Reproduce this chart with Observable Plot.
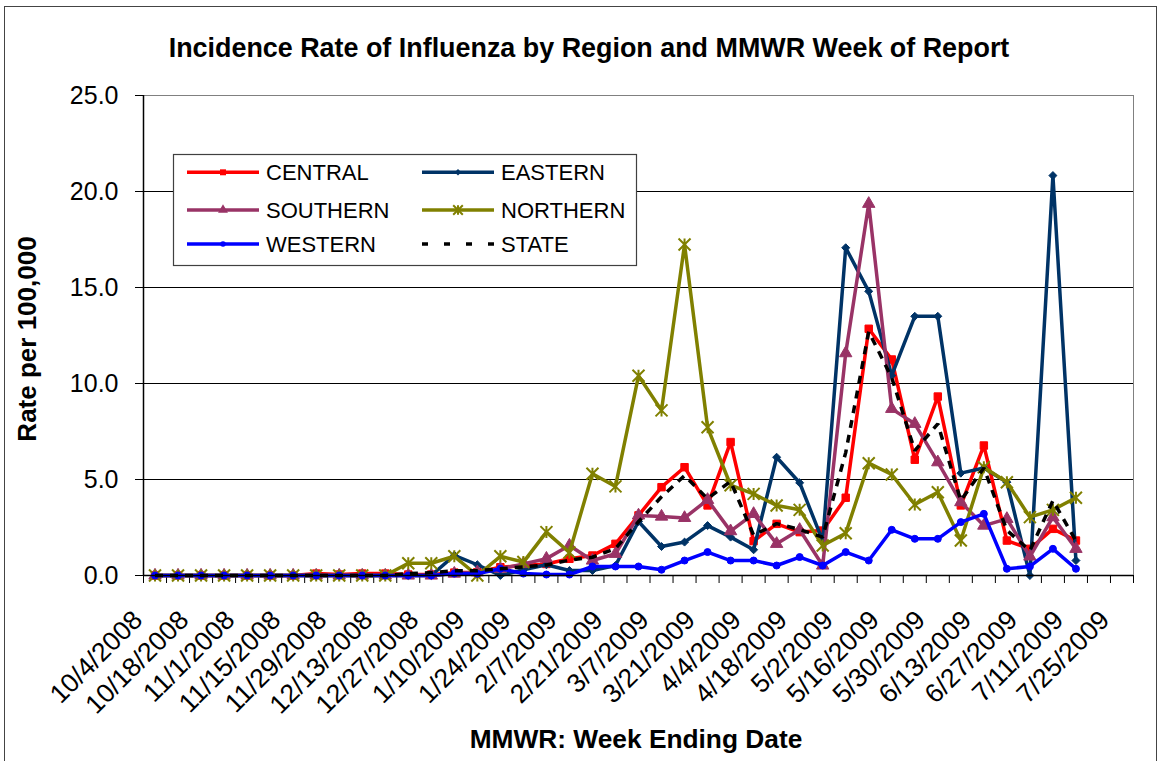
<!DOCTYPE html>
<html>
<head>
<meta charset="utf-8">
<script src="https://cdn.jsdelivr.net/npm/d3@7"></script>
<script src="https://cdn.jsdelivr.net/npm/@observablehq/plot@0.6"></script>
<style>
  html, body { margin: 0; padding: 0; background: #fff; }
  #chart { position: relative; width: 1161px; height: 761px; overflow: hidden; background: #fff; }
  #chart > svg { position: absolute; left: 0; top: 0; }
  #border { position: absolute; left: 4px; top: 6px; width: 1153px; height: 770px; border: 1.5px solid #444; box-sizing: border-box; }
</style>
</head>
<body>
<div id="chart"><div id="border"></div></div>
<script>
// Week-ending dates (category axis)
const dates = ["10/4/2008","10/11/2008","10/18/2008","10/25/2008","11/1/2008","11/8/2008","11/15/2008","11/22/2008",
  "11/29/2008","12/6/2008","12/13/2008","12/20/2008","12/27/2008","1/3/2009","1/10/2009","1/17/2009","1/24/2009",
  "1/31/2009","2/7/2009","2/14/2009","2/21/2009","2/28/2009","3/7/2009","3/14/2009","3/21/2009","3/28/2009",
  "4/4/2009","4/11/2009","4/18/2009","4/25/2009","5/2/2009","5/9/2009","5/16/2009","5/23/2009","5/30/2009",
  "6/6/2009","6/13/2009","6/20/2009","6/27/2009","7/4/2009","7/11/2009","7/18/2009","7/25/2009"];

const central  = [0,0,0,0,0,0,0,0.1,0.05,0.1,0.1,0.05,0.05,0.15,0.17,0.43,0.52,0.6,0.87,1.04,1.65,3.13,4.6,5.64,3.65,6.95,1.79,2.69,2.26,2.34,4.05,12.85,11.25,6.03,9.32,3.65,6.77,1.82,1.39,2.43,1.82];
const eastern  = [0,0,0,0,0,0,0,0,0,0,0,0,0,1.05,0.56,0,0.3,0.56,0.26,0.26,0.52,2.81,1.51,1.74,2.6,2.0,1.34,6.16,4.83,1.8,17.07,14.8,10.42,13.5,13.5,5.33,5.6,4.86,0,20.83,0.78];
const southern = [0,0,0,0,0,0,0,0,0,0,0,0,0,0.1,0.17,0.35,0.6,0.88,1.56,0.78,1.13,3.13,3.07,3.0,3.94,2.31,3.21,1.65,2.38,0.52,11.58,19.36,8.68,7.9,5.9,3.82,2.6,2.95,0.99,3.04,1.39];
const northern = [0,0,0,0,0,0,0,0,0,0,0,0.64,0.64,1.0,0,1.0,0.7,2.26,1.2,5.3,4.64,10.4,8.6,17.24,7.72,4.7,4.25,3.65,3.42,1.56,2.2,5.85,5.26,3.7,4.34,1.82,5.64,4.86,3.04,3.42,4.05];
const western  = [0,0,0,0,0,0,0,0,0,0,0,0,0,0.1,0.09,0.35,0.1,0.05,0.05,0.47,0.47,0.47,0.3,0.78,1.22,0.78,0.78,0.52,0.96,0.52,1.22,0.78,2.38,1.91,1.91,2.78,3.21,0.35,0.47,1.39,0.35];
const state    = [0,0,0,0,0,0,0,0,0,0,0,0.1,0.15,0.25,0.25,0.35,0.45,0.55,0.8,0.95,1.4,2.8,4.1,5.2,4.0,4.9,2.1,2.7,2.4,2.0,6.4,12.7,10.3,6.5,7.9,3.9,5.6,2.35,1.3,3.9,1.8];

const seriesNames = ["CENTRAL","EASTERN","SOUTHERN","NORTHERN","WESTERN","STATE"];
const yTicks = [0,5,10,15,20,25];

// star marker (X with vertical bar), like Excel's star
const starSymbol = {
  draw(ctx, size) {
    const r = Math.sqrt(size / Math.PI);
    ctx.moveTo(-r, -r); ctx.lineTo(r, r);
    ctx.moveTo(-r, r); ctx.lineTo(r, -r);
    ctx.moveTo(0, -r); ctx.lineTo(0, r);
  }
};

const styles = {
  CENTRAL:  {color: "#FF0000", symbol: "square",   r: 4.2},
  EASTERN:  {color: "#003366", symbol: "diamond2", r: 3.6},
  SOUTHERN: {color: "#993366", symbol: "triangle", r: 4.6},
  NORTHERN: {color: "#808000", symbol: starSymbol, r: 6},
  WESTERN:  {color: "#0000FF", symbol: "circle",   r: 3.5},
  STATE:    {color: "#000000", symbol: null,       r: 0, dash: "8,7"}
};
const valuesByName = {CENTRAL: central, EASTERN: eastern, SOUTHERN: southern, NORTHERN: northern, WESTERN: western, STATE: state};

const xDomain = [-0.5, dates.length - 0.5];
const boundaries = d3.range(dates.length + 1).map(i => i - 0.5);
const labelIdx = dates.map((d, i) => i).filter(i => i % 2 === 0);

const marks = [
  Plot.ruleY(yTicks.filter(v => v > 0), {stroke: "#000", strokeWidth: 1}),
  Plot.frame({stroke: "#808080", strokeWidth: 1}),
  Plot.axisY({ticks: yTicks, tickFormat: d => d.toFixed(1), tickSize: 8, tickPadding: 17, label: null, stroke: "#000"}),
  Plot.axisX({ticks: boundaries, tickSize: 8, tickFormat: () => "", label: null, stroke: "#000"}),
  Plot.text(labelIdx, {x: d => d, text: d => dates[d], frameAnchor: "bottom", rotate: -45, textAnchor: "end",
    lineAnchor: "middle", dx: -17, dy: 40, fontSize: 26.5, fill: "#000"})
];

for (const name of seriesNames) {
  const s = styles[name];
  const data = valuesByName[name].map((v, i) => ({i, v}));
  marks.push(Plot.line(data, {x: "i", y: "v", stroke: s.color, strokeWidth: 3.5, strokeDasharray: s.dash,
    strokeLinejoin: "miter", strokeLinecap: "butt"}));
  if (s.symbol) {
    if (name === "NORTHERN") {
      marks.push(Plot.dot(data, {x: "i", y: "v", symbol: s.symbol, r: s.r, stroke: s.color, fill: "none", strokeWidth: 2}));
    } else {
      marks.push(Plot.dot(data, {x: "i", y: "v", symbol: s.symbol, r: s.r, fill: s.color, stroke: s.color, strokeWidth: 1}));
    }
  }
}
marks.push(Plot.ruleX([xDomain[0]], {stroke: "#000", strokeWidth: 1.5}));
marks.push(Plot.ruleY([0], {stroke: "#000", strokeWidth: 1.5}));

const plot = Plot.plot({
  width: 1161,
  height: 761,
  marginLeft: 143,
  marginRight: 28,
  marginTop: 95,
  marginBottom: 186,
  style: {fontFamily: "'Liberation Sans', Arial, sans-serif", fontSize: "25px", color: "#000", background: "transparent", overflow: "visible"},
  x: {type: "linear", domain: xDomain},
  y: {type: "linear", domain: [0, 25]},
  marks
});
document.getElementById("chart").appendChild(plot);

// Overlay: title, axis titles, legend
const ov = d3.select("#chart").append("svg")
  .attr("width", 1161).attr("height", 761)
  .style("font-family", "'Liberation Sans', Arial, sans-serif");

ov.append("text").attr("x", 589).attr("y", 57).attr("text-anchor", "middle")
  .attr("font-weight", "bold").attr("font-size", 26.9)
  .text("Incidence Rate of Influenza by Region and MMWR Week of Report");

ov.append("text").attr("transform", "translate(36,339) rotate(-90)").attr("text-anchor", "middle")
  .attr("font-weight", "bold").attr("font-size", 26).text("Rate per 100,000");

ov.append("text").attr("x", 636).attr("y", 748).attr("text-anchor", "middle")
  .attr("font-weight", "bold").attr("font-size", 26.3).text("MMWR: Week Ending Date");

const lg = ov.append("g");
lg.append("rect").attr("x", 173.5).attr("y", 154.5).attr("width", 463).attr("height", 111)
  .attr("fill", "#fff").attr("stroke", "#404040").attr("stroke-width", 1.2);
const rowsY = [172.3, 210, 244];
const cols = [{x1: 187, x2: 259, tx: 266}, {x1: 422, x2: 494, tx: 501}];
seriesNames.forEach((name, k) => {
  const s = styles[name];
  const c = cols[k % 2], y = rowsY[Math.floor(k / 2)];
  lg.append("line").attr("x1", c.x1).attr("x2", c.x2).attr("y1", y).attr("y2", y)
    .attr("stroke", s.color).attr("stroke-width", 3.5)
    .attr("stroke-dasharray", s.dash ? "6,16" : null);
  if (s.symbol) {
    const sym = d3.symbol(typeof s.symbol === "string" ? {square: d3.symbolSquare, diamond2: d3.symbolDiamond2, triangle: d3.symbolTriangle, circle: d3.symbolCircle}[s.symbol] : s.symbol,
      Math.PI * (s.r * 0.8) * (s.r * 0.8));
    const p = lg.append("path").attr("d", sym()).attr("transform", `translate(${(c.x1 + c.x2) / 2},${y})`);
    if (name === "NORTHERN") p.attr("fill", "none").attr("stroke", s.color).attr("stroke-width", 2);
    else p.attr("fill", s.color);
  }
  lg.append("text").attr("x", c.tx).attr("y", y + 7.7).attr("font-size", 22).attr("fill", "#000").text(name);
});
</script>
</body>
</html>
